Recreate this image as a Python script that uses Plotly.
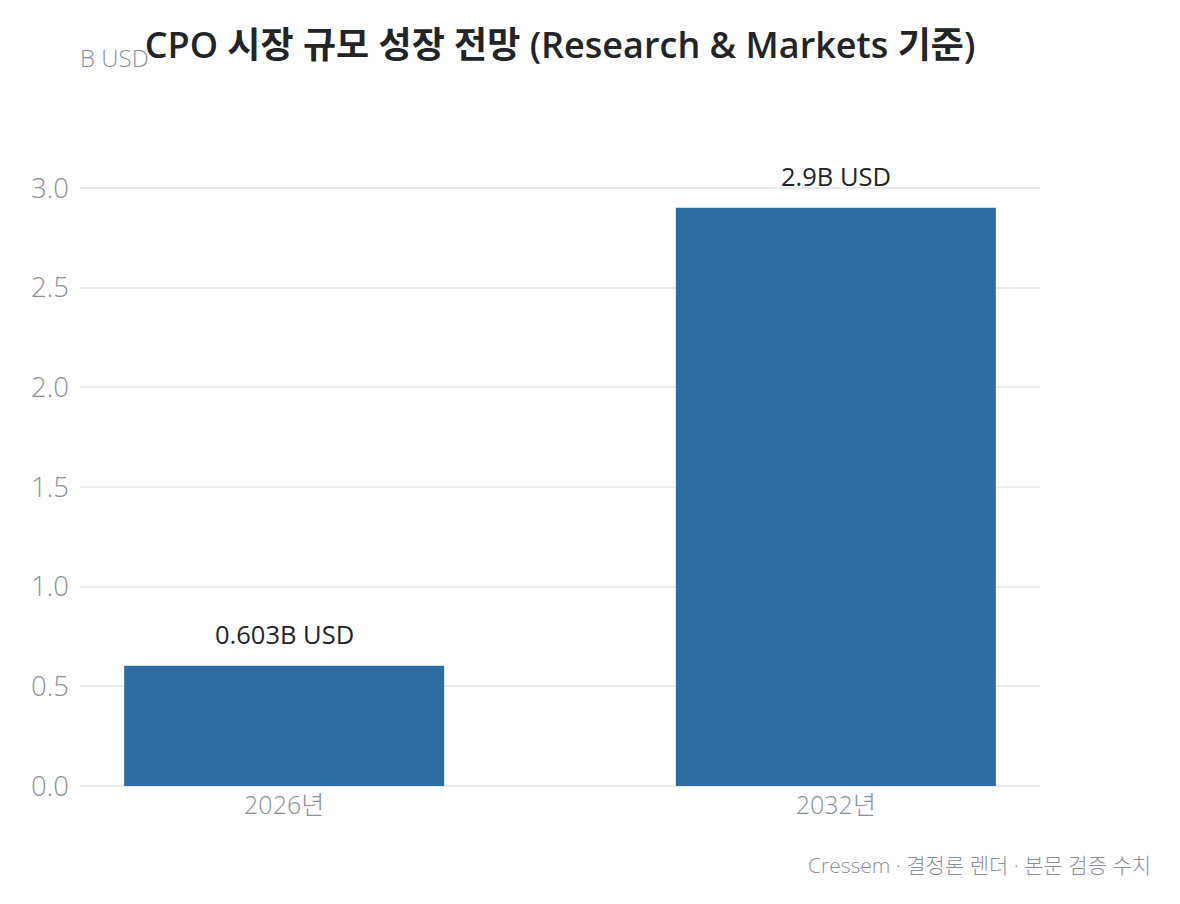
import plotly.graph_objects as go

# data
years = ['2026년', '2032년']
market_size = [0.603, 2.9]
value_labels = ['0.603B USD', '2.9B USD']
tick_vals = [0.0, 0.5, 1.0, 1.5, 2.0, 2.5, 3.0]

FONT = 'Open Sans, Noto Sans CJK KR'
BAR_COLOR = '#2e6da4'
GRAY = '#8a909b'
DARK = '#222428'

fig = go.Figure()

fig.add_trace(go.Bar(
    x=years,
    y=market_size,
    width=0.58,
    marker=dict(color=BAR_COLOR, line_width=0),
    hoverinfo='skip',
    showlegend=False
))

# value labels above each bar
for yr, val, lbl in zip(years, market_size, value_labels):
    fig.add_annotation(
        x=yr, y=val, text=lbl,
        showarrow=False, yanchor='middle', yshift=32,
        font=dict(family=FONT, size=25.5, color=DARK, weight=500)
    )

fig.add_annotation(
    text='B USD', xref='paper', yref='paper', x=0, y=1.0,
    xanchor='left', yanchor='middle', yshift=91, xshift=-2,
    showarrow=False, font=dict(family=FONT, size=24, color=GRAY, weight=300)
)

fig.add_annotation(
    text='Cressem · 결정론 렌더 · 본문 검증 수치',
    xref='paper', yref='paper', x=1, y=0,
    xanchor='right', yanchor='middle', xshift=113, yshift=-79,
    showarrow=False, font=dict(family=FONT, size=21, color=GRAY, weight=300)
)

fig.update_layout(
    title=dict(
        text='CPO 시장 규모 성장 전망 (Research & Markets 기준)',
        font=dict(family=FONT, size=36, color=DARK, weight=600),
        x=0.5, xref='paper', xanchor='center',
        y=0.959, yanchor='middle'
    ),
    xaxis=dict(
        range=[-0.37, 1.37],
        showgrid=False,
        showline=False,
        ticks='',
        ticklabelstandoff=2,
        tickfont=dict(family=FONT, size=25, color=GRAY, weight=300)
    ),
    yaxis=dict(
        range=[0, 3.2],
        tickvals=tick_vals,
        tickformat='.1f',
        gridcolor='#e9eaed',
        gridwidth=1.5,
        zeroline=True,
        zerolinecolor='#e9eaed',
        zerolinewidth=1.5,
        ticks='',
        ticklabelstandoff=10,
        tickfont=dict(family=FONT, size=27.5, color=GRAY, weight=300)
    ),
    font=dict(family=FONT),
    paper_bgcolor='white',
    plot_bgcolor='white',
    width=1180,
    height=904,
    margin=dict(l=72, r=148, t=140, b=126)
)

fig.write_html('out.html')
